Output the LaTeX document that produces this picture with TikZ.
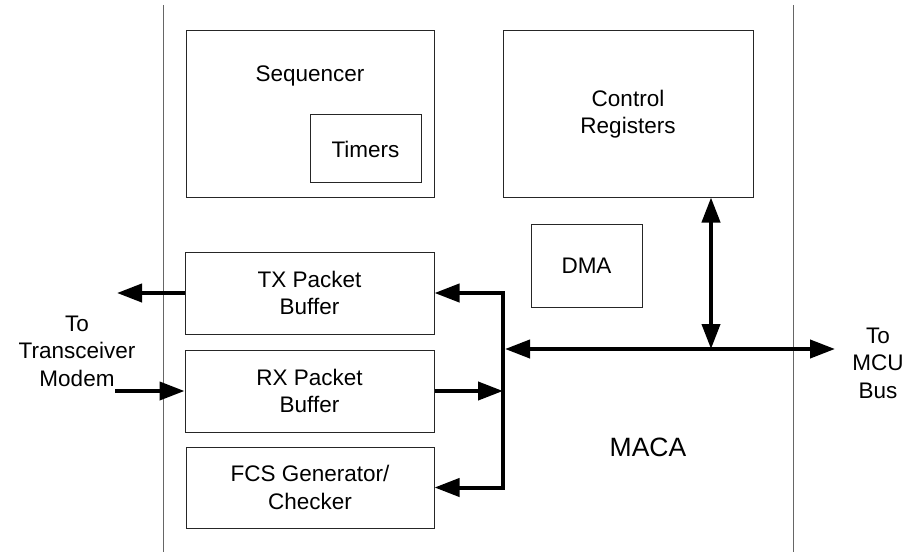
\documentclass[tikz,border=0pt]{standalone}
\usepackage{fontspec}
\setmainfont{Liberation Sans}
\usetikzlibrary{arrows.meta}
\begin{document}
\begin{tikzpicture}[x=1pt,y=-1pt,
  box/.style={draw=black!85, line width=1pt, inner sep=0pt, align=center, font=\fontsize{22.5}{27.5}\selectfont},
  lbl/.style={inner sep=0pt, align=center, font=\fontsize{22.5}{27.5}\selectfont},
  biglbl/.style={inner sep=0pt, align=center, font=\fontsize{26.5}{31}\selectfont},
  bus/.style={line width=4pt, -{Triangle[length=25pt,width=18pt]}},
  bus2/.style={line width=4pt, {Triangle[length=25pt,width=18pt]}-{Triangle[length=25pt,width=18pt]}},
  wall/.style={draw=black!60, line width=1pt}]
\useasboundingbox (0,0) rectangle (904,556);
% walls
\coordinate (lwt) at (163,5);
\coordinate (lwb) at (163,552);
\coordinate (rwt) at (793,5);
\coordinate (rwb) at (793,552);
\draw[wall] (lwt) -- (lwb);
\draw[wall] (rwt) -- (rwb);
% boxes
\node[box, minimum width=248pt, minimum height=166pt] (seq) at (310,114) {};
\node[lbl] (seqt) at (310,76) {Sequencer};
\node[box, minimum width=111pt, minimum height=68pt] (tim) at (365.5,149) {Timers};
\node[box, minimum width=250pt, minimum height=166pt] (ctl) at (628,114) {Control\\Registers};
\node[box, minimum width=111pt, minimum height=83pt] (dma) at (586.5,265.5) {DMA};
\node[box, minimum width=249pt, minimum height=82pt] (tx) at (309.5,293) {TX Packet\\Buffer};
\node[box, minimum width=249pt, minimum height=82pt] (rx) at (309.5,391) {RX Packet\\Buffer};
\node[box, minimum width=248pt, minimum height=81pt] (fcs) at (310,487.5) {FCS Generator/\\Checker};
% labels
\node[lbl] (trx) at (77,351) {To\\Transceiver\\Modem};
\node[lbl] (mcu) at (878,363) {To\\MCU\\Bus};
\node[biglbl] (maca) at (648,447) {MACA};
% connectors
\coordinate (bt) at (503,293);
\coordinate (bl) at (505,349);
\coordinate (br) at (835,349);
\coordinate (cv) at (711,349);
\coordinate (txo) at (117,293);
\coordinate (rxi) at (115,391);
\draw[bus2] (tx.east) -- (bt) -- (bt |- fcs.east) -- (fcs.east);
\draw[bus] (rx.east) -- (rx.east -| bt);
\draw[bus2] (bl) -- (br);
\draw[bus2] (ctl.south -| cv) -- (cv);
\draw[bus] (tx.west) -- (txo);
\draw[bus] (rxi) -- (rx.west);
\end{tikzpicture}
\end{document}
